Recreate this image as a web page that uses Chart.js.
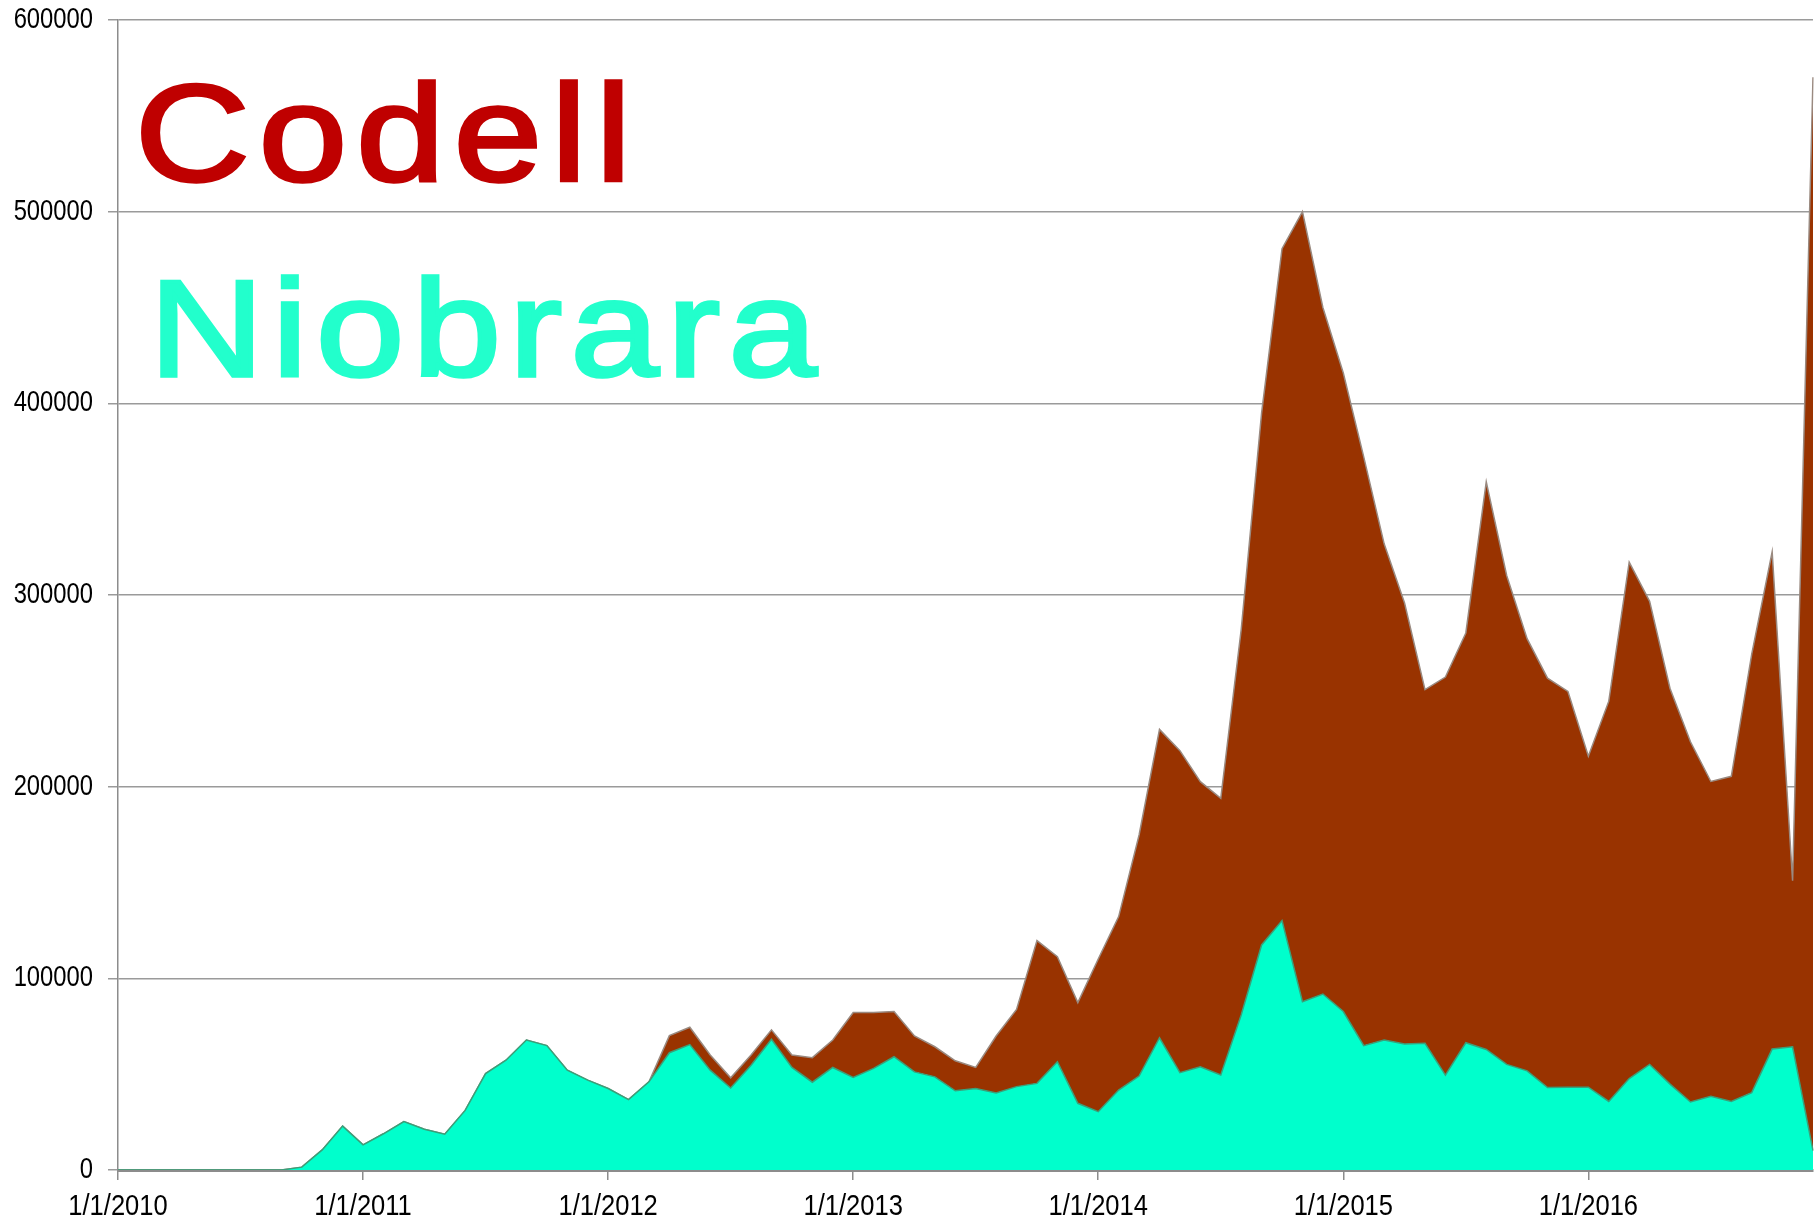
<!DOCTYPE html>
<html>
<head>
<meta charset="utf-8">
<script src="https://cdn.jsdelivr.net/npm/chart.js@4.4.1/dist/chart.umd.min.js"></script>
<style>
  html, body { margin: 0; padding: 0; background: #ffffff; }
  .chart-container { position: relative; width: 1815px; height: 1222px; }
</style>
</head>
<body>
<div class="chart-container"><canvas id="chart"></canvas></div>
<script>
// monthly volumes, Jan 2010 .. Dec 2016 (84 months)
var years = [2010, 2011, 2012, 2013, 2014, 2015, 2016];
var yearTicks = ['1/1/2010', '1/1/2011', '1/1/2012', '1/1/2013', '1/1/2014', '1/1/2015', '1/1/2016'];
var yTicks = [0, 100000, 200000, 300000, 400000, 500000, 600000];

var niobrara = [
  0, 0, 0, 0, 0, 0, 0, 0, 0, 1500, 10500, 22900,
  13100, 18900, 25300, 21300, 18700, 31100, 50300, 57300, 67800, 64900, 52100, 46900,
  42500, 36700, 46000, 61200, 65400, 52100, 42800, 54700, 68200, 53500, 45800, 53500,
  48300, 53000, 59100, 51200, 48600, 41300, 42500, 40200, 43500, 45200, 56500, 34800,
  30400, 41700, 49000, 69000, 50800, 53900, 49600, 80900, 117400, 130100, 87800, 91800,
  82700, 64900, 67800, 65700, 66100, 49500, 66400, 62900, 55100, 51700, 43000, 43200,
  43200, 35800, 47700, 55100, 44800, 35500, 38500, 35800, 40400, 63100, 64300, 10100
];

var codell = [
  0, 0, 0, 0, 0, 0, 0, 0, 0, 0, 0, 0,
  0, 0, 0, 0, 0, 0, 0, 0, 0, 0, 0, 0,
  0, 0, 0, 8900, 9100, 7900, 5300, 5300, 4900, 6500, 12800, 14300,
  33900, 29200, 23600, 18700, 15700, 15700, 11000, 29700, 40300, 74500, 54800, 52500,
  79700, 90500, 125800, 160900, 168000, 148700, 144300, 201000, 277600, 350600, 412200, 358200,
  333100, 307200, 258900, 230100, 184500, 207700, 213800, 296100, 255100, 225500, 213600, 206500,
  172700, 208800, 269400, 241600, 206400, 187900, 164200, 169600, 228800, 259400, 86600, 560000
];

// category labels, one per month
var months = [];
years.forEach(function (y) {
  for (var m = 1; m <= 12; m++) months.push(m + '/1/' + y);
});

var axisGray = '#8c8c8c';

// draw text squeezed horizontally (the original uses a narrow face)
function narrowText(ctx, text, x, y, squeeze, align) {
  var w = ctx.measureText(text).width * squeeze;
  var left = align === 'right' ? x - w : (align === 'center' ? x - w / 2 : x);
  ctx.save();
  ctx.translate(left, y);
  ctx.scale(squeeze, 1);
  ctx.textAlign = 'left';
  ctx.fillText(text, 0, 0);
  ctx.restore();
}

// axis labels, placed from the chart's own scales
var axisLabels = {
  id: 'axisLabels',
  afterDraw: function (chart) {
    var ctx = chart.ctx;
    var xs = chart.scales.x;
    var ys = chart.scales.y;
    ctx.save();
    ctx.fillStyle = '#000000';
    ctx.font = '29px "Liberation Sans", Arial, sans-serif';
    ctx.textBaseline = 'middle';
    yTicks.forEach(function (v) {
      narrowText(ctx, String(v), xs.left - 25, ys.getPixelForValue(v), 0.82, 'right');
    });
    ctx.textBaseline = 'alphabetic';
    yearTicks.forEach(function (lab, i) {
      narrowText(ctx, lab, xs.getPixelForValue(i * 12), ys.bottom + 45, 0.88, 'center');
    });
    ctx.restore();
  }
};

// big coloured series names in the top-left of the plot, spaced out letter by letter
var seriesNames = {
  id: 'seriesNames',
  afterDraw: function (chart) {
    var ctx = chart.ctx;
    var items = [
      { text: 'Codell', color: '#BF0000', x: 141, y: 183, w: 482 },
      { text: 'Niobrara', color: '#22FFCC', x: 160, y: 378, w: 659 }
    ];
    var sx = 1.15, lw = 3.5;
    ctx.save();
    ctx.font = '138px "Liberation Sans", Arial, sans-serif';
    ctx.textBaseline = 'alphabetic';
    ctx.textAlign = 'left';
    ctx.lineJoin = 'miter';
    items.forEach(function (it) {
      var chars = it.text.split('');
      var n = chars.length;
      var widths = chars.map(function (c) { return ctx.measureText(c).width; });
      var first = ctx.measureText(chars[0]);
      var last = ctx.measureText(chars[n - 1]);
      var adv = 0;
      for (var i = 0; i < n - 1; i++) adv += widths[i];
      var ink = first.actualBoundingBoxLeft + adv + last.actualBoundingBoxRight + lw;
      var spacing = (it.w / sx - ink) / (n - 1);
      ctx.save();
      ctx.translate(it.x, it.y - lw / 2);
      ctx.scale(sx, 1);
      ctx.fillStyle = it.color;
      ctx.strokeStyle = it.color;
      ctx.lineWidth = lw;
      var pen = first.actualBoundingBoxLeft + lw / 2;
      chars.forEach(function (c, i) {
        ctx.fillText(c, pen, 0);
        ctx.strokeText(c, pen, 0);
        pen += widths[i] + spacing;
      });
      ctx.restore();
    });
    ctx.restore();
  }
};

var ctx = document.getElementById('chart').getContext('2d');
var myChart = new Chart(ctx, {
  type: 'line',
  data: {
    labels: months,
    datasets: [{
      label: 'Niobrara',
      data: niobrara,
      backgroundColor: '#00FFCC',
      borderColor: '#3aa07a',
      borderWidth: 1.5,
      fill: 'origin',
      pointRadius: 0,
      tension: 0
    }, {
      label: 'Codell',
      data: codell,
      backgroundColor: '#993300',
      borderColor: '#9a8a80',
      borderWidth: 1.5,
      fill: '-1',
      pointRadius: 0,
      tension: 0
    }]
  },
  options: {
    responsive: true,
    maintainAspectRatio: false,
    animation: false,
    layout: { padding: { top: 20, right: 2, left: 0, bottom: 0 } },
    plugins: {
      legend: { display: false },
      tooltip: { enabled: false }
    },
    scales: {
      x: {
        type: 'category',
        offset: false,
        afterFit: function (s) { s.height = 52; },
        border: { color: axisGray, width: 3 },
        grid: {
          drawOnChartArea: false,
          color: function (c) { return c.index % 12 === 0 ? axisGray : 'rgba(0,0,0,0)'; },
          lineWidth: 1.5,
          tickLength: 10
        },
        ticks: { display: false, autoSkip: false }
      },
      y: {
        stacked: true,
        min: yTicks[0],
        max: yTicks[yTicks.length - 1],
        afterFit: function (s) { s.width = 118; },
        afterBuildTicks: function (s) {
          s.ticks = yTicks.map(function (v) { return { value: v }; });
        },
        border: { color: axisGray, width: 1.5 },
        grid: {
          color: '#9a9a9a',
          lineWidth: 1.5,
          tickLength: 10
        },
        ticks: { display: false }
      }
    }
  },
  plugins: [axisLabels, seriesNames]
});
</script>
</body>
</html>
